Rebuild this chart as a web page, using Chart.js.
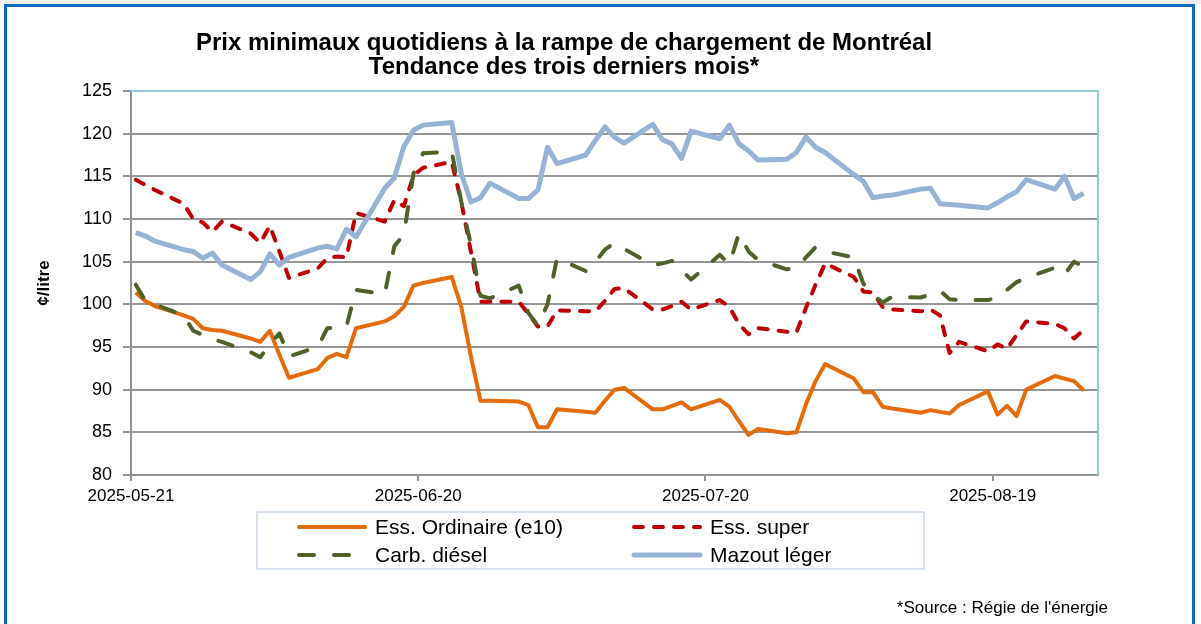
<!DOCTYPE html>
<html lang="fr">
<head>
<meta charset="utf-8">
<title>Prix minimaux quotidiens - rampe de Montréal</title>
<script src="https://cdn.jsdelivr.net/npm/chart.js@4.4.1/dist/chart.umd.min.js"></script>
<style>
  html, body { margin: 0; padding: 0; background: #fff; }
  #page { position: relative; width: 1201px; height: 624px; overflow: hidden; background: #fff; }
  #bandeau { position: absolute; left: 0; top: 0; width: 1201px; height: 4px; background: #efefef; }
  #bordure { position: absolute; left: 4px; top: 4px; width: 1185px; height: 700px; border: 3px solid #0f6cbd; }
  #graphique { position: absolute; left: 0; top: 0; }
  #source { position: absolute; right: 93px; top: 598px; font: 17px "Liberation Sans", Arial, sans-serif; color: #000; }
</style>
</head>
<body>
<div id="page">
  <div id="bandeau"></div>
  <div id="bordure"></div>
  <canvas id="graphique" width="1201" height="624"></canvas>
  <div id="source">*Source : Régie de l'énergie</div>
</div>

<script>
//********************************************
// donnees (cents/litre), jours ouvrables
//********************************************
const dates = [
  '2025-05-21', '2025-05-22', '2025-05-23',
  '2025-05-26', '2025-05-27', '2025-05-28', '2025-05-29', '2025-05-30',
  '2025-06-02', '2025-06-03', '2025-06-04', '2025-06-05', '2025-06-06',
  '2025-06-09', '2025-06-10', '2025-06-11', '2025-06-12', '2025-06-13',
  '2025-06-16', '2025-06-17', '2025-06-18', '2025-06-19', '2025-06-20',
  '2025-06-23', '2025-06-24', '2025-06-25', '2025-06-26', '2025-06-27',
  '2025-06-30', '2025-07-01', '2025-07-02', '2025-07-03', '2025-07-04',
  '2025-07-07', '2025-07-08', '2025-07-09', '2025-07-10', '2025-07-11',
  '2025-07-14', '2025-07-15', '2025-07-16', '2025-07-17', '2025-07-18',
  '2025-07-21', '2025-07-22', '2025-07-23', '2025-07-24', '2025-07-25',
  '2025-07-28', '2025-07-29', '2025-07-30', '2025-07-31', '2025-08-01',
  '2025-08-04', '2025-08-05', '2025-08-06', '2025-08-07', '2025-08-08',
  '2025-08-11', '2025-08-12', '2025-08-13', '2025-08-14', '2025-08-15',
  '2025-08-18', '2025-08-19', '2025-08-20', '2025-08-21', '2025-08-22',
  '2025-08-25', '2025-08-26', '2025-08-27', '2025-08-28'
]

const essOrdinaire = [
  101.4, 100.4, 99.8,
  98.7, 98.3, 97.2, 97.0, 96.9,
  96.0, 95.6, 96.9, 94.1, 91.4,
  92.4, 93.7, 94.2, 93.8, 97.2,
  98.0, 98.6, 99.7, 102.2, 102.5,
  103.2, 99.7, 93.9, 88.7, 88.7,
  88.6, 88.2, 85.6, 85.6, 87.7,
  87.4, 87.3, 88.7, 90.0, 90.2,
  87.7, 87.7, 88.1, 88.5, 87.7,
  88.8, 88.0, 86.3, 84.7, 85.4,
  84.9, 85.0, 88.3, 91.0, 93.0,
  91.3, 89.7, 89.7, 88.0, 87.8,
  87.3, 87.6, 87.4, 87.2, 88.2,
  89.8, 87.1, 88.1, 86.9, 90.0,
  91.6, 91.3, 91.0, 89.9
]

const essSuper = [
  114.6, 114.0, 113.4,
  111.8, 110.0, 109.6, 108.5, 109.7,
  108.3, 107.2, 109.2, 106.2, 103.1,
  104.2, 105.4, 105.6, 105.5, 110.7,
  109.7, 112.2, 111.5, 115.1, 116.0,
  116.7, 112.0, 106.2, 100.3, 100.3,
  100.3, 98.9, 97.4, 97.4, 99.3,
  99.2, 99.2, 100.4, 101.8, 101.9,
  99.4, 99.4, 99.8, 100.3, 99.4,
  100.5, 99.7, 97.7, 96.5, 97.2,
  96.8, 96.7, 99.6, 102.3, 104.8,
  103.2, 101.5, 101.4, 99.7, 99.4,
  99.2, 99.4, 98.7, 94.3, 95.6,
  94.5, 95.3, 94.8, 96.4, 98.0,
  97.7, 97.2, 96.0, 97.0
]

const carbDiesel = [
  102.3, 100.4, 100.0,
  98.7, 96.9, 96.4, 95.9, 95.6,
  94.4, 93.8, 95.3, 96.6, 93.9,
  95.0, 97.2, 97.3, 97.4, 101.7,
  101.2, 106.8, 108.2, 115.3, 117.7,
  117.9, 112.0, 107.0, 101.0, 100.7,
  102.2, 99.0, 97.5, 100.0, 105.4,
  103.9, 105.0, 106.4, 107.2, 106.5,
  104.6, 104.8, 105.1, 104.0, 102.9,
  105.8, 104.7, 108.3, 106.2, 105.2,
  104.1, 104.3, 105.5, 106.7, 106.2,
  105.5, 102.4, 101.2, 100.2, 100.9,
  100.8, 101.2, 101.6, 100.6, 100.5,
  100.5, 100.8, 101.7, 102.6, 103.1,
  104.3, 103.5, 105.0, 104.4
]

const mazoutLeger = [
  108.4, 108.0, 107.4,
  106.4, 106.2, 105.4, 106.0, 104.6,
  102.9, 103.8, 105.9, 104.6, 105.5,
  106.6, 106.8, 106.5, 108.8, 107.9,
  113.6, 114.8, 118.5, 120.4, 121.0,
  121.3, 115.3, 112.0, 112.5, 114.2,
  112.4, 112.4, 113.4, 118.4, 116.5,
  117.5, 119.2, 120.8, 119.6, 118.9,
  121.1, 119.3, 118.8, 117.1, 120.3,
  119.4, 121.0, 118.8, 118.0, 116.9,
  117.0, 117.8, 119.6, 118.4, 117.8,
  115.2, 114.4, 112.5, 112.7, 112.8,
  113.5, 113.6, 111.8, 111.7, 111.6,
  111.3, 111.9, 112.6, 113.2, 114.6,
  113.5, 115.0, 112.4, 113.0
]

// reperes de l'axe des x (un tous les 30 jours) et fin de l'axe
const reperesX = ['2025-05-21', '2025-06-20', '2025-07-20', '2025-08-19']
const finAxe = '2025-08-30'
const minY = 80, maxY = 125, pasY = 5

//********************************************
// utilitaires
//********************************************
const UN_JOUR = 86400000
const jour0 = Date.parse(dates[0])
const versJour = d => (Date.parse(d) - jour0) / UN_JOUR
const versDate = j => new Date(jour0 + Math.round(j) * UN_JOUR).toISOString().slice(0, 10)

// chaque valeur est centree dans sa journee (comme Excel)
const points = serie => serie.map((v, i) => ({ x: versJour(dates[i]) + 0.5, y: v }))

const police = '"Liberation Sans", Arial, sans-serif'
const gris = '#8f9396'

//********************************************
// cadre bleu du haut et de droite + legende encadree
//********************************************
const cadrePlot = {
  id: 'cadrePlot',
  beforeDatasetsDraw(chart) {
    const { ctx, chartArea: a } = chart
    ctx.save()
    ctx.strokeStyle = '#92cddc'
    ctx.lineWidth = 2
    ctx.beginPath()
    ctx.moveTo(a.left, a.top)
    ctx.lineTo(a.right, a.top)
    ctx.lineTo(a.right, a.bottom)
    ctx.stroke()
    ctx.restore()
  }
}

const legendeCadre = {
  id: 'legendeCadre',
  afterDraw(chart) {
    const ctx = chart.ctx
    const x0 = 257, y0 = 512, w = 667, h = 57
    ctx.save()
    ctx.strokeStyle = '#c8d8ea'
    ctx.lineWidth = 1.5
    ctx.strokeRect(x0, y0, w, h)
    const colonnes = [297, 632]
    chart.data.datasets.forEach((ds, i) => {
      const cx = colonnes[i % 2]
      const cy = 527 + Math.floor(i / 2) * 28
      ctx.beginPath()
      ctx.setLineDash(ds.borderDash || [])
      ctx.lineCap = 'round'
      ctx.strokeStyle = ds.borderColor
      ctx.lineWidth = ds.borderWidth
      ctx.moveTo(cx + 2, cy)
      ctx.lineTo(cx + 68, cy)
      ctx.stroke()
      ctx.setLineDash([])
      ctx.fillStyle = '#000'
      ctx.font = '21px ' + police
      ctx.textBaseline = 'middle'
      ctx.fillText(ds.label, cx + 78, cy + 1)
    })
    ctx.restore()
  }
}

//********************************************
// graphique
//********************************************
const ctx = document.getElementById('graphique').getContext('2d')
const graphique = new Chart(ctx, {
  type: 'line',
  data: {
    datasets: [{
      label: 'Ess. Ordinaire (e10)',
      data: points(essOrdinaire),
      borderColor: '#e46c0a',
      borderWidth: 4,
      order: 4
    }, {
      label: 'Ess. super',
      data: points(essSuper),
      borderColor: '#c00000',
      borderWidth: 4,
      borderDash: [9, 11],
      borderCapStyle: 'round',
      order: 3
    }, {
      label: 'Carb. diésel',
      data: points(carbDiesel),
      borderColor: '#4f6228',
      borderWidth: 4,
      borderDash: [15, 20],
      borderCapStyle: 'round',
      order: 2
    }, {
      label: 'Mazout léger',
      data: points(mazoutLeger),
      borderColor: '#95b3d7',
      borderWidth: 5,
      order: 1
    }]
  },
  options: {
    responsive: false,
    animation: false,
    layout: { padding: { left: 30, right: 103, top: 31, bottom: 0 } },
    elements: {
      point: { radius: 0 },
      line: { tension: 0, borderJoinStyle: 'round' }
    },
    plugins: {
      legend: { display: false },
      tooltip: { enabled: false },
      title: {
        display: true,
        text: ['Prix minimaux quotidiens à la rampe de chargement de Montréal', 'Tendance des trois derniers mois*'],
        color: '#000',
        font: { family: police, size: 24, weight: 'bold', lineHeight: 1.0 },
        padding: { top: 0, bottom: 12 }
      }
    },
    scales: {
      x: {
        type: 'linear',
        min: 0,
        max: versJour(finAxe),
        afterBuildTicks: scale => {
          scale.ticks = reperesX.map(d => ({ value: versJour(d) }))
        },
        afterFit: scale => { scale.height = 149 },
        ticks: {
          color: '#000',
          font: { family: police, size: 17 },
          padding: 5,
          maxRotation: 0,
          autoSkip: false,
          callback: v => versDate(v)
        },
        grid: { drawOnChartArea: false, tickLength: 6, color: gris, lineWidth: 2 },
        border: { color: gris, width: 2 }
      },
      y: {
        min: minY,
        max: maxY,
        afterFit: scale => { scale.width = 101 },
        ticks: {
          stepSize: pasY,
          color: '#000',
          font: { family: police, size: 18 },
          padding: 11
        },
        grid: { color: '#969696', lineWidth: 2, tickLength: 8 },
        border: { color: gris, width: 2 },
        title: {
          display: true,
          text: '¢/litre',
          color: '#000',
          font: { family: police, size: 17, weight: 'bold' }
        }
      }
    }
  },
  plugins: [cadrePlot, legendeCadre]
})
</script>
</body>
</html>
